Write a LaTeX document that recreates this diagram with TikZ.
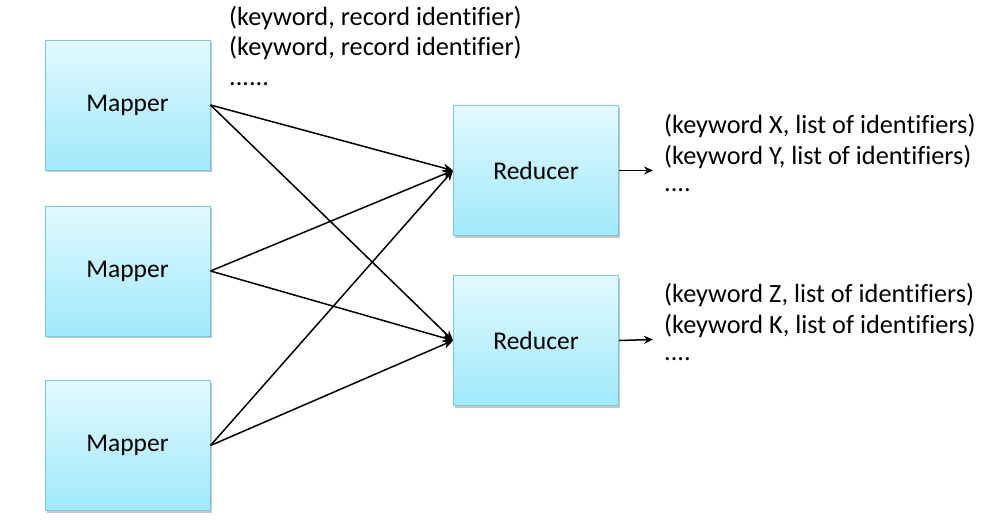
\documentclass[tikz,border=0pt]{standalone}
\usepackage{fontspec}
\setmainfont[Ligatures=NoCommon]{Carlito}
\usetikzlibrary{arrows.meta,shadows}
\definecolor{boxtop}{RGB}{226,249,255}
\definecolor{boxbot}{RGB}{160,233,251}
\definecolor{boxline}{RGB}{124,200,222}
\tikzset{
  procbox/.style={draw=boxline, line width=1pt, top color=boxtop, bottom color=boxbot,
    minimum width=165pt, minimum height=130pt, inner sep=0pt,
    font=\fontsize{25.5}{30}\selectfont,
    drop shadow={shadow xshift=1.5pt, shadow yshift=-2pt, fill=black!45, opacity=0.5}},
  flow/.style={line width=1.5pt, -{Stealth[length=10pt,width=9pt]}},
  lbl/.style={anchor=west, inner sep=0pt, font=\fontsize{26.3}{30}\selectfont}
}
\begin{document}
\begin{tikzpicture}[x=1pt,y=-1pt]
\useasboundingbox (0,0) rectangle (993,520);
\node[procbox] (m1) at (127.5,105) {\raisebox{-1pt}{Mapper}};
\node[procbox] (m2) at (127.5,271) {\raisebox{-1pt}{Mapper}};
\node[procbox] (m3) at (127.5,445.5) {\raisebox{-1pt}{Mapper}};
\node[procbox] (r1) at (536,170.5) {Reducer};
\node[procbox] (r2) at (536,340.5) {Reducer};
\foreach \m in {m1,m2,m3}{
  \draw[flow] (\m.east) -- (r1.west);
  \draw[flow] (\m.east) -- (r2.west);
}
\coordinate (o1) at (653,170.5);
\coordinate (o2) at (653,339.5);
\draw[flow, -{Stealth[length=9pt,width=8pt]}] (r1.east) -- (o1);
\draw[flow, -{Stealth[length=9pt,width=8pt]}] (r2.east) -- (o2);
\node[lbl] (t1) at (229,18) {(keyword, record identifier)};
\node[lbl] (t2) at (229,48) {(keyword, record identifier)};
\node[lbl] (t3) at (229,84) {......};
\node[lbl] (a1) at (664,126) {(keyword X, list of identifiers)};
\node[lbl] (a2) at (664,157) {(keyword Y, list of identifiers)};
\node[lbl] (a3) at (664,190) {....};
\node[lbl] (b1) at (664,295) {(keyword Z, list of identifiers)};
\node[lbl] (b2) at (664,326) {(keyword K, list of identifiers)};
\node[lbl] (b3) at (664,359) {....};
\end{tikzpicture}
\end{document}
